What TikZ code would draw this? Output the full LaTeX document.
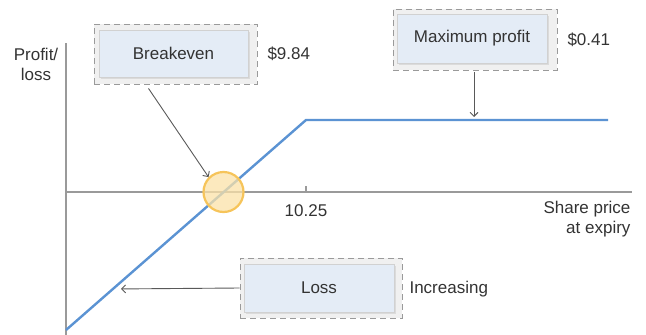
\documentclass[tikz,border=0pt]{standalone}
\usepackage{fontspec}
\setmainfont{Liberation Sans}
\usepackage{tikz}
\usetikzlibrary{arrows.meta}
\usetikzlibrary{positioning}
\usetikzlibrary{shadows}

\definecolor{inkgray}{HTML}{333333}
\definecolor{axisgray}{HTML}{9A9A9A}
\definecolor{payoff}{HTML}{5B93D3}
\definecolor{cardfill}{HTML}{E4ECF6}
\definecolor{framefill}{HTML}{F0F0F0}
\definecolor{ringline}{HTML}{F6C45A}
\definecolor{ringfill}{HTML}{FBE2A8}

\begin{document}
\begin{tikzpicture}[x=1pt, y=-1pt,
        every node/.style={text=inkgray, font=\fontsize{17}{20}\selectfont},
        frame/.style={draw=axisgray, dashed, dash pattern=on 6pt off 4pt, line width=0.9pt, fill=framefill, minimum width=163pt, minimum height=60pt},
        card/.style={draw=black!18, fill=cardfill, line width=0.8pt, minimum width=149pt, minimum height=47pt, drop shadow={shadow xshift=1.5pt, shadow yshift=-1.5pt, fill=black!22}},
        note/.style={anchor=west},
        pointer/.style={-{Straight Barb[length=4pt,width=8pt]}, draw=black!65, line width=0.9pt},
        axis/.style={draw=axisgray, line width=1.1pt},
    ]
    \useasboundingbox (0,0) rectangle (646,335);
    % axes
    \coordinate (origin) at (66,192);
    \coordinate (ytop) at (66,43);
    \coordinate (ybot) at (66,335);
    \coordinate (xend) at (632,192);
    \draw[axis] (ytop) -- (ybot);
    \draw[axis] (origin) -- (xend);
    \draw[axis] (306,186) -- (306,192);
    \node (strike) at (306,211) {10.25};
    \node (ylab) at (36,64) [align=center] {Profit/\\loss};
    \node (xlab) [anchor=north east, align=right] at (634,198) {Share price\\at expiry};
    % payoff line
    \coordinate (low) at (66,330);
    \coordinate (knee) at (306,120);
    \coordinate (high) at (608,120);
    \draw[payoff, line width=2.4pt] (low) -- (knee) -- (high);
    \node[circle, draw=ringline, line width=2.2pt, fill=ringfill, fill opacity=0.75, minimum size=40pt] (brk) at (223.5,192) {};
    % callouts
    \node[frame] (bkFrame) at (175.5,54) {};
    \node[card] (bk) at (173.5,53.5) {Breakeven};
    \node[note] (bkVal) at (264,54) {\$9.84};
    \node[frame, minimum width=164pt, minimum height=61pt] (mpFrame) at (475,39.5) {};
    \node[card, minimum width=150pt, minimum height=49pt] (mp) at (472,38.5) {Maximum profit};
    \node[note] (mpVal) at (564,40) {\$0.41};
    \node[frame, minimum width=162pt] (lossFrame) at (321,288) {};
    \node[card, minimum width=150pt, minimum height=48pt] (loss) at (319,288) {Loss};
    \node[note] (lossVal) at (406,289) {Increasing};
    % pointers
    \coordinate (cap) at (474,120);
    \coordinate (slope) at (113,289);
    \draw[pointer] ([xshift=-27pt, yshift=-4pt]bkFrame.south) -- (brk.135);
    \draw[pointer, shorten >=3pt] ([xshift=-1pt, yshift=-2pt]mpFrame.south) -- (cap);
    \draw[pointer, shorten >=8pt] (lossFrame.west) -- (slope);
\end{tikzpicture}
\end{document}
